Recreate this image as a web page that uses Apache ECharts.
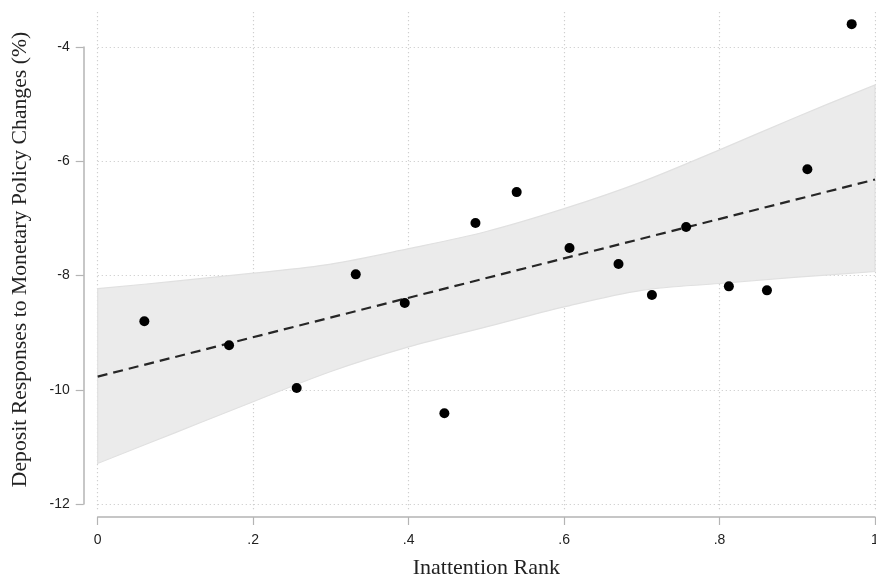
<!DOCTYPE html>
<html>
<head>
<meta charset="utf-8">
<script src="https://cdn.jsdelivr.net/npm/echarts@6/dist/echarts.min.js"></script>
<style>html,body{margin:0;padding:0;background:#fff}#c{width:876px;height:576px}</style>
</head>
<body>
<div id="c"></div>
<script>
// Binned scatter points
const pointX = [0.060, 0.169, 0.256, 0.332, 0.395, 0.446, 0.486, 0.539, 0.607, 0.670, 0.713, 0.757, 0.812, 0.861, 0.913, 0.970];
const pointY = [-8.80, -9.22, -9.97, -7.98, -8.48, -10.41, -7.08, -6.54, -7.52, -7.80, -8.34, -7.15, -8.19, -8.26, -6.14, -3.60];
// Fitted line endpoints
const fitX = [0, 1];
const fitY = [-9.77, -6.32];
// Confidence band
const bandX = [0, 0.1, 0.2, 0.3, 0.4, 0.5, 0.6, 0.7, 0.8, 0.9, 1.0];
const bandUpper = [-8.23, -8.10, -7.96, -7.80, -7.53, -7.23, -6.83, -6.36, -5.80, -5.22, -4.665];
const bandLower = [-11.29, -10.75, -10.21, -9.68, -9.25, -8.90, -8.55, -8.26, -8.14, -8.03, -7.93];
// Ticks
const xTickLabels = ['0', '.2', '.4', '.6', '.8', '1'];
const yTickValues = [-12, -10, -8, -6, -4];

const chart = echarts.init(document.getElementById('c'), null, {renderer: 'canvas'});
const axisGray = '#b4b4b4';
const gridColor = '#cfcfcf';
const dotted = {type: [1.2, 2.8], color: gridColor, width: 1.2};

// Catmull-Rom -> cubic bezier path segment through pixel points
function smoothSeg(pts, move) {
  let d = move ? 'M' + pts[0][0] + ',' + pts[0][1] : 'L' + pts[0][0] + ',' + pts[0][1];
  for (let i = 0; i < pts.length - 1; i++) {
    const p0 = pts[i - 1] || pts[i], p1 = pts[i], p2 = pts[i + 1], p3 = pts[i + 2] || p2;
    const c1 = [p1[0] + (p2[0] - p0[0]) / 6, p1[1] + (p2[1] - p0[1]) / 6];
    const c2 = [p2[0] - (p3[0] - p1[0]) / 6, p2[1] - (p3[1] - p1[1]) / 6];
    d += 'C' + c1[0] + ',' + c1[1] + ',' + c2[0] + ',' + c2[1] + ',' + p2[0] + ',' + p2[1];
  }
  return d;
}

const option = {
  backgroundColor: '#fff',
  animation: false,
  grid: [
    {left: 97.7, right: 1, top: 47, bottom: 72, containLabel: false, outerBoundsMode: 'none'},
    {left: 97.7, right: 1, top: 12, bottom: 66, containLabel: false, outerBoundsMode: 'none'}
  ],
  xAxis: [
    {
      gridIndex: 0, type: 'value', min: 0, max: 1, interval: 0.2, offset: 13,
      name: 'Inattention Rank', nameLocation: 'middle', nameGap: 40,
      nameTextStyle: {fontFamily: 'Liberation Serif', fontSize: 22, color: '#222'},
      axisLine: {show: true, onZero: false, lineStyle: {color: axisGray, width: 1.5}},
      axisTick: {show: true, length: 8, lineStyle: {color: axisGray, width: 1.2}},
      axisLabel: {margin: 16, fontFamily: 'Liberation Sans', fontSize: 14, color: '#222',
        formatter: v => xTickLabels[Math.round(v / 0.2)]},
      splitLine: {show: false}
    },
    {
      gridIndex: 1, type: 'value', min: 0, max: 1, interval: 0.2,
      axisLine: {show: false}, axisTick: {show: false}, axisLabel: {show: false},
      splitLine: {show: true, lineStyle: dotted}
    }
  ],
  yAxis: [
    {
      gridIndex: 0, type: 'value', min: yTickValues[0], max: yTickValues[yTickValues.length - 1], interval: 2, offset: 14,
      name: 'Deposit Responses to Monetary Policy Changes (%)', nameLocation: 'middle', nameGap: 52,
      nameTextStyle: {fontFamily: 'Liberation Serif', fontSize: 21.7, color: '#222', padding: [0, 0, 0, 32]},
      axisLine: {show: true, onZero: false, lineStyle: {color: axisGray, width: 1.5}},
      axisTick: {show: true, length: 8, lineStyle: {color: axisGray, width: 1.2}},
      axisLabel: {margin: 14, fontFamily: 'Liberation Sans', fontSize: 14, color: '#222'},
      splitLine: {show: true, lineStyle: dotted}
    },
    {
      gridIndex: 1, type: 'value', min: 0, max: 1, show: false, splitLine: {show: false}
    }
  ],
  series: [
    {
      type: 'custom', xAxisIndex: 0, yAxisIndex: 0, silent: true, z: 1,
      data: [0],
      renderItem: function (params, api) {
        const up = bandX.map((x, i) => api.coord([x, bandUpper[i]]));
        const lo = bandX.map((x, i) => api.coord([x, bandLower[i]])).reverse();
        const d = smoothSeg(up, true) + smoothSeg(lo, false) + 'Z';
        return {
          type: 'path',
          shape: {pathData: d},
          style: {fill: '#ebebeb', stroke: '#e0e0e0', lineWidth: 1.2}
        };
      }
    },
    {
      type: 'line', xAxisIndex: 0, yAxisIndex: 0, symbol: 'none', silent: true,
      data: fitX.map((x, i) => [x, fitY[i]]),
      lineStyle: {color: '#262626', width: 2.2, type: [10, 6]}, z: 3
    },
    {
      type: 'scatter', xAxisIndex: 0, yAxisIndex: 0, clip: false,
      data: pointX.map((x, i) => [x, pointY[i]]),
      symbol: 'circle', symbolSize: 10, itemStyle: {color: '#000', opacity: 1}, z: 4
    }
  ]
};
chart.setOption(option);
</script>
</body>
</html>
